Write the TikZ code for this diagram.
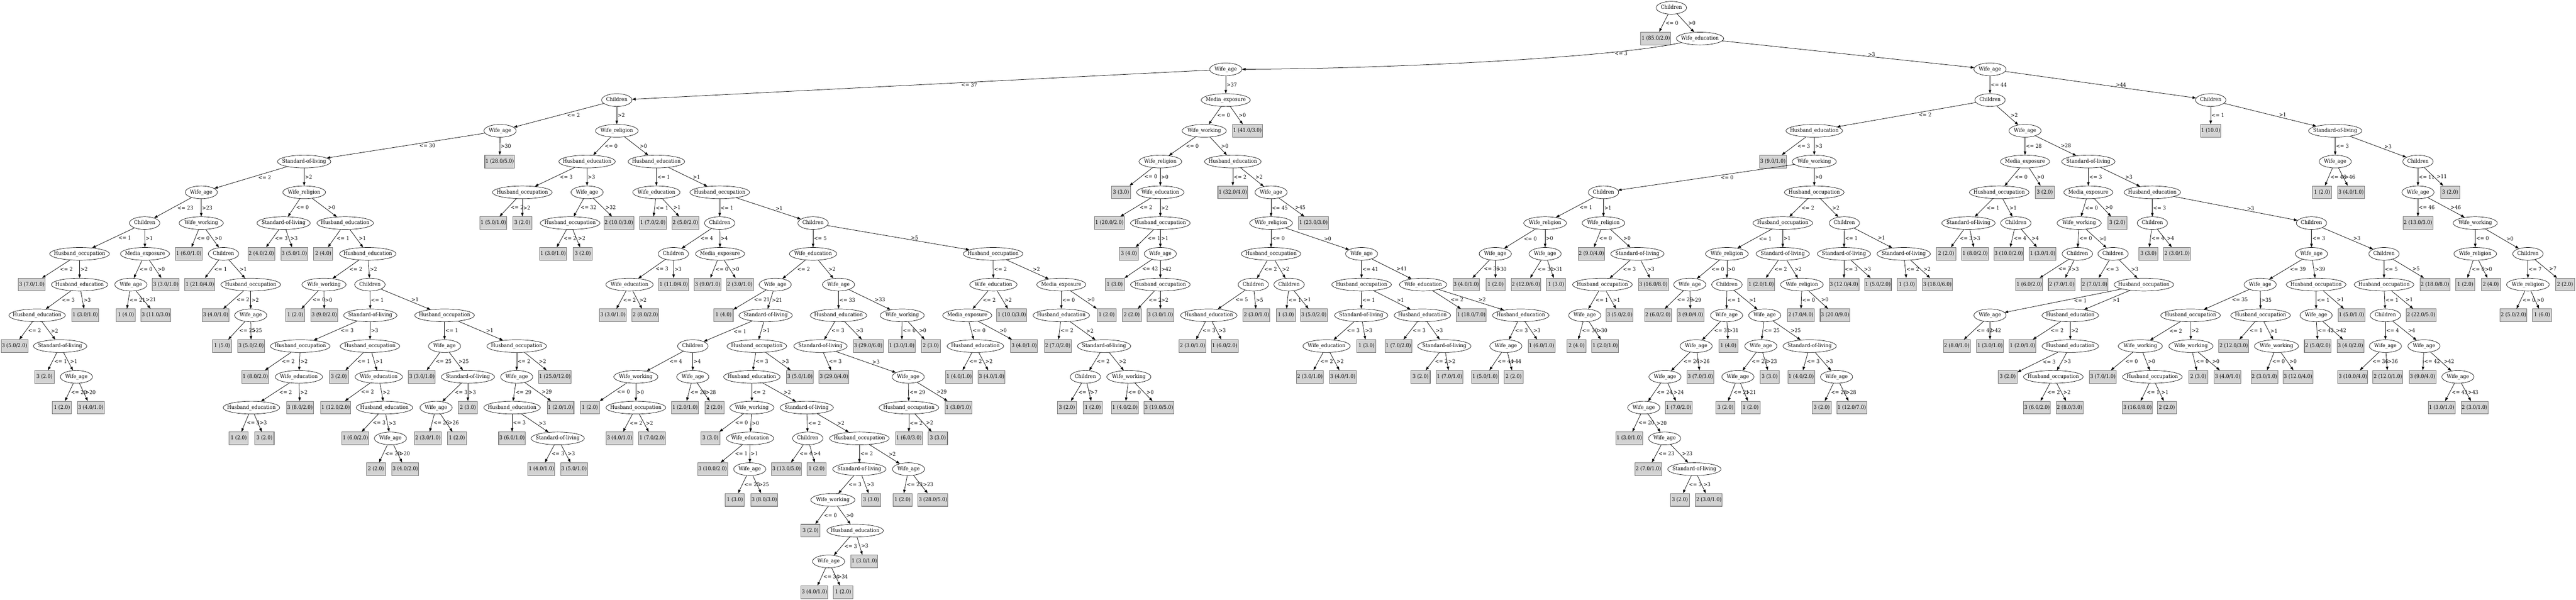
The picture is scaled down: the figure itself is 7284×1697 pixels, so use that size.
\documentclass[tikz,border=0pt]{standalone}
\usepackage{fontspec}
\setmainfont{DejaVu Serif}[FakeStretch=0.91]
\usetikzlibrary{arrows.meta,shapes.geometric}
\definecolor{leafgray}{RGB}{211,211,211}
\newdimen\cxa \newdimen\cxb
\newcommand\gfont{\fontsize{7.5pt}{9pt}\selectfont}
\newcommand\Zb[1]{\makebox[0pt]{#1}}
\newcommand\mkin[5]{\node[inode, minimum width=#1] (#2) at (#3,{22+87*#4}) {\Zb{#5}};}
\newcommand\gCH[3]{\mkin{43pt}{#1}{#2}{#3}{Children}}
\newcommand\gWA[3]{\mkin{45.5pt}{#1}{#2}{#3}{Wife\_age}}
\newcommand\gWE[3]{\mkin{67pt}{#1}{#2}{#3}{Wife\_education}}
\newcommand\gWR[3]{\mkin{60.5pt}{#1}{#2}{#3}{Wife\_religion}}
\newcommand\gWW[3]{\mkin{62.5pt}{#1}{#2}{#3}{Wife\_working}}
\newcommand\gHE[3]{\mkin{80pt}{#1}{#2}{#3}{Husband\_education}}
\newcommand\gHO[3]{\mkin{84.5pt}{#1}{#2}{#3}{Husband\_occupation}}
\newcommand\gSL[3]{\mkin{75.5pt}{#1}{#2}{#3}{Standard-of-living}}
\newcommand\gME[3]{\mkin{69.5pt}{#1}{#2}{#3}{Media\_exposure}}
\newcommand\gLF[4]{\node[leaf] (#1) at (#2,{22+87*#3}) {#4};}
\newcommand\conn[3]{%
  \pgfextractx{\cxa}{\pgfpointanchor{#1}{center}}%
  \pgfextractx{\cxb}{\pgfpointanchor{#2}{center}}%
  \pgfmathsetmacro\csh{1+0.065*abs(\cxb-\cxa)}%
  \draw[conline] (#1) -- node[elab, xshift=\csh pt] {#3} (#2);%
}
\begin{document}
\begin{tikzpicture}[x=0.5pt,y=-0.5pt,
  inode/.style={ellipse, draw, line width=0.5pt, inner sep=0pt, minimum height=18pt, text height=5.5pt, text depth=1.6pt, font=\gfont},
  leaf/.style={rectangle, draw=black!55, fill=leafgray, line width=0.75pt, minimum height=18pt, minimum width=27pt, inner xsep=1pt, inner ysep=0pt, text height=5.5pt, text depth=1.6pt, font=\gfont},
  conline/.style={draw, line width=0.55pt, -{Triangle[length=5pt,width=3.6pt]}},
  elab/.style={midway, anchor=west, inner sep=0pt, font=\gfont},
  elabc/.style={inner sep=0pt, font=\gfont}]
\useasboundingbox (0,0) rectangle (7284,1697);
% ---------- top ----------
\gCH{n0}{4726}{0}
\gLF{l1}{4682}{1}{1 (85.0/2.0)}
\gWE{n1}{4807}{1}
\gWA{n2}{3466}{2}
\gWA{n3}{5627}{2}
% ---------- left subtree ----------
\gCH{a1}{1744}{3}
\gME{b1}{3466}{3}
\gWA{a2}{1414}{4}
\gWR{a3}{1744}{4}
\gSL{a4}{860}{5}
\gLF{l2}{1413}{5}{1 (28.0/5.0)}
\gWA{a5}{569}{6}
\gWR{a6}{860}{6}
\gCH{a7}{409}{7}
\gWW{a8}{569}{7}
\gHO{a9}{225}{8}
\gME{a10}{410}{8}
\gLF{l3}{90}{9}{3 (7.0/1.0)}
\gHE{a11}{225}{9}
\gHE{a12}{105}{10}
\gLF{l4}{241}{10}{1 (3.0/1.0)}
\gLF{l5}{41}{11}{3 (5.0/2.0)}
\gSL{a13}{170}{11}
\gLF{l6}{126}{12}{3 (2.0)}
\gWA{a14}{216}{12}
\gLF{l7}{175}{13}{1 (2.0)}
\gLF{l8}{257}{13}{3 (4.0/1.0)}
\gWA{a15}{370}{9}
\gLF{l9}{469}{9}{3 (3.0/1.0)}
\gLF{l10}{356}{10}{1 (4.0)}
\gLF{l11}{441}{10}{3 (11.0/3.0)}
\gLF{l12}{534}{8}{1 (6.0/1.0)}
\gCH{a16}{632}{8}
\gLF{l13}{565}{9}{1 (21.0/4.0)}
\gHO{a17}{709}{9}
\gLF{l14}{610}{10}{3 (4.0/1.0)}
\gWA{a18}{709}{10}
\gLF{l15}{628}{11}{1 (5.0)}
\gLF{l16}{710}{11}{3 (5.0/2.0)}
\gSL{a19}{802}{7}
\gHE{a20}{976}{7}
\gLF{l17}{739}{8}{2 (4.0/2.0)}
\gLF{l18}{832}{8}{3 (5.0/1.0)}
\gLF{l19}{914}{8}{2 (4.0)}
\gHE{a21}{1040}{8}
\gWW{a22}{916}{9}
\gCH{a23}{1046}{9}
\gLF{l20}{835}{10}{1 (2.0)}
\gLF{l21}{917}{10}{3 (9.0/2.0)}
\gSL{a24}{1047}{10}
\gHO{a25}{1257}{10}
\gHO{a26}{849}{11}
\gHO{a27}{1046}{11}
\gLF{l22}{722}{12}{1 (8.0/2.0)}
\gWE{a28}{845}{12}
\gLF{l23}{958}{12}{3 (2.0)}
\gWE{a30}{1071}{12}
\gHE{a29}{711}{13}
\gLF{l24}{848}{13}{3 (8.0/2.0)}
\gLF{l25}{949}{13}{1 (12.0/2.0)}
\gHE{a31}{1087}{13}
\gLF{l26}{675}{14}{1 (2.0)}
\gLF{l27}{748}{14}{3 (2.0)}
\gLF{l28}{1005}{14}{1 (6.0/2.0)}
\gWA{a32}{1104}{14}
\gLF{l29}{1063}{15}{2 (2.0)}
\gLF{l30}{1146}{15}{3 (4.0/2.0)}
\gWA{a33}{1257}{11}
\gHO{a34}{1461}{11}
\gLF{l31}{1193}{12}{3 (3.0/1.0)}
\gSL{a35}{1323}{12}
\gWA{a36}{1233}{13}
\gLF{l32}{1323}{13}{2 (3.0)}
\gLF{l33}{1210}{14}{2 (3.0/1.0)}
\gLF{l34}{1292}{14}{1 (2.0)}
\gWA{a37}{1461}{12}
\gLF{l35}{1569}{12}{1 (25.0/12.0)}
\gHE{a38}{1448}{13}
\gLF{l36}{1585}{13}{1 (2.0/1.0)}
\gLF{l37}{1448}{14}{3 (6.0/1.0)}
\gSL{a39}{1577}{14}
\gLF{l38}{1531}{15}{1 (4.0/1.0)}
\gLF{l39}{1623}{15}{3 (5.0/1.0)}
% a3 subtree
\gHE{c1}{1660}{5}
\gHE{c2}{1856}{5}
\gHO{c3}{1477}{6}
\gWA{c4}{1660}{6}
\gWE{c6}{1856}{6}
\gHO{c7}{2035}{6}
\gLF{l40}{1395}{7}{1 (5.0/1.0)}
\gLF{l41}{1477}{7}{3 (2.0)}
\gHO{c5}{1612}{7}
\gLF{l42}{1750}{7}{2 (10.0/3.0)}
\gLF{l43}{1846}{7}{1 (7.0/2.0)}
\gLF{l44}{1938}{7}{2 (5.0/2.0)}
\gCH{c8}{2035}{7}
\gCH{c9}{2299}{7}
\gLF{l45}{1564}{8}{1 (3.0/1.0)}
\gLF{l46}{1648}{8}{3 (2.0)}
\gCH{c10}{1904}{8}
\gME{c11}{2036}{8}
\gWE{c13}{2299}{8}
\gHO{c14}{2808}{8}
\gWE{c12}{1780}{9}
\gLF{l47}{1905}{9}{1 (11.0/4.0)}
\gLF{l48}{2001}{9}{3 (9.0/1.0)}
\gLF{l49}{2092}{9}{2 (3.0/1.0)}
\gWA{c15}{2192}{9}
\gWA{c16}{2371}{9}
\gLF{l50}{1733}{10}{3 (3.0/1.0)}
\gLF{l51}{1825}{10}{2 (8.0/2.0)}
\gLF{l52}{2046}{10}{1 (4.0)}
\gSL{c17}{2165}{10}
\gHE{c35}{2371}{10}
\gWW{c36}{2551}{10}
\gCH{c18}{1959}{11}
\gHO{c19}{2140}{11}
\gWW{c20}{1798}{12}
\gWA{c21}{1959}{12}
\gHE{c23}{2126}{12}
\gLF{l53}{2262}{12}{3 (5.0/1.0)}
\gLF{l54}{1668}{13}{1 (2.0)}
\gHO{c22}{1798}{13}
\gLF{l55}{1937}{13}{1 (2.0/1.0)}
\gLF{l56}{2020}{13}{2 (2.0)}
\gWW{c24}{2126}{13}
\gSL{c25}{2281}{13}
\gLF{l57}{1752}{14}{3 (4.0/1.0)}
\gLF{l58}{1844}{14}{1 (7.0/2.0)}
\gLF{l59}{2009}{14}{3 (3.0)}
\gWE{c26}{2121}{14}
\gLF{l60}{2015}{15}{3 (10.0/2.0)}
\gWA{c27}{2120}{15}
\gLF{l61}{2078}{16}{1 (3.0)}
\gLF{l62}{2161}{16}{3 (8.0/3.0)}
\gCH{c28}{2284}{14}
\gHO{c29}{2430}{14}
\gLF{l63}{2224}{15}{3 (13.0/5.0)}
\gLF{l64}{2309}{15}{1 (2.0)}
\gSL{c30}{2430}{15}
\gWA{c31}{2569}{15}
\gWW{c32}{2355}{16}
\gLF{l65}{2463}{16}{3 (3.0)}
\gLF{l66}{2552}{16}{1 (2.0)}
\gLF{l67}{2638}{16}{3 (28.0/5.0)}
\gLF{l68}{2292}{17}{3 (2.0)}
\gHE{c33}{2418}{17}
\gWA{c34}{2343}{18}
\gLF{l69}{2444}{18}{1 (3.0/1.0)}
\gLF{l70}{2303}{19}{3 (4.0/1.0)}
\gLF{l71}{2384}{19}{1 (2.0)}
\gSL{c37}{2320}{11}
\gLF{l72}{2455}{11}{3 (29.0/6.0)}
\gLF{l73}{2358}{12}{3 (29.0/4.0)}
\gWA{c38}{2568}{12}
\gHO{c39}{2570}{13}
\gLF{l74}{2710}{13}{1 (3.0/1.0)}
\gLF{l75}{2570}{14}{1 (6.0/3.0)}
\gLF{l76}{2652}{14}{3 (3.0)}
\gLF{l77}{2550}{11}{1 (3.0/1.0)}
\gLF{l78}{2632}{11}{2 (3.0)}
\gWE{c40}{2809}{9}
\gME{c41}{3001}{9}
\gME{c42}{2735}{10}
\gLF{l79}{2861}{10}{1 (10.0/3.0)}
\gHE{c44}{3001}{10}
\gLF{l80}{3129}{10}{1 (2.0)}
\gHE{c43}{2758}{11}
\gLF{l81}{2896}{11}{3 (4.0/1.0)}
\gLF{l82}{2991}{11}{2 (7.0/2.0)}
\gSL{c45}{3122}{11}
\gLF{l83}{2712}{12}{1 (4.0/1.0)}
\gLF{l84}{2804}{12}{3 (4.0/1.0)}
\gCH{c46}{3069}{12}
\gWW{c47}{3192}{12}
\gLF{l85}{3017}{13}{3 (2.0)}
\gLF{l86}{3090}{13}{1 (2.0)}
\gLF{l87}{3181}{13}{1 (4.0/2.0)}
\gLF{l88}{3277}{13}{3 (19.0/5.0)}
% b1 subtree
\gWW{b2}{3405}{4}
\gLF{l89}{3527}{4}{1 (41.0/3.0)}
\gWR{b3}{3281}{5}
\gHE{b4}{3486}{5}
\gLF{l90}{3170}{6}{3 (3.0)}
\gWE{b5}{3281}{6}
\gLF{l91}{3486}{6}{1 (32.0/4.0)}
\gWA{b9}{3594}{6}
\gLF{l92}{3137}{7}{1 (20.0/2.0)}
\gHO{b6}{3281}{7}
\gWR{b10}{3594}{7}
\gLF{l93}{3714}{7}{1 (23.0/3.0)}
\gLF{l94}{3192}{8}{3 (4.0)}
\gWA{b7}{3281}{8}
\gHO{b11}{3594}{8}
\gWA{b12}{3850}{8}
\gLF{l95}{3152}{9}{1 (3.0)}
\gHO{b8}{3281}{9}
\gCH{b13}{3544}{9}
\gCH{b14}{3645}{9}
\gHO{b16}{3850}{9}
\gWE{b17}{4024}{9}
\gLF{l96}{3200}{10}{2 (2.0)}
\gLF{l97}{3281}{10}{3 (3.0/1.0)}
\gHE{b15}{3418}{10}
\gLF{l98}{3553}{10}{2 (3.0/1.0)}
\gLF{l99}{3636}{10}{1 (3.0)}
\gLF{l100}{3715}{10}{3 (5.0/2.0)}
\gSL{b18}{3849}{10}
\gHE{b19}{4022}{10}
\gLF{l101}{4160}{10}{1 (18.0/7.0)}
\gHE{b22}{4300}{10}
\gLF{l102}{3372}{11}{2 (3.0/1.0)}
\gLF{l103}{3463}{11}{1 (6.0/2.0)}
\gWE{b20}{3751}{11}
\gLF{l104}{3864}{11}{1 (3.0)}
\gLF{l105}{3954}{11}{1 (7.0/2.0)}
\gSL{b21}{4084}{11}
\gWA{b23}{4258}{11}
\gLF{l106}{4359}{11}{1 (6.0/1.0)}
\gLF{l107}{3704}{12}{2 (3.0/1.0)}
\gLF{l108}{3797}{12}{3 (4.0/1.0)}
\gLF{l109}{4017}{12}{3 (2.0)}
\gLF{l110}{4099}{12}{1 (7.0/1.0)}
\gLF{l111}{4199}{12}{1 (5.0/1.0)}
\gLF{l112}{4280}{12}{2 (2.0)}
% ---------- right subtree ----------
\gCH{d1}{5627}{3}
\gCH{e1}{6251}{3}
\gHE{d2}{5130}{4}
\gWA{d3}{5726}{4}
\gLF{l113}{6251}{4}{1 (10.0)}
\gSL{e2}{6603}{4}
\gLF{l114}{5013}{5}{3 (9.0/1.0)}
\gWW{d4}{5130}{5}
\gME{d34}{5726}{5}
\gSL{d35}{5905}{5}
\gWA{e3}{6603}{5}
\gCH{e4}{6837}{5}
\gCH{d5}{4534}{6}
\gHO{d6}{5130}{6}
\gHO{d36}{5653}{6}
\gLF{l115}{5782}{6}{3 (2.0)}
\gME{d39}{5905}{6}
\gHE{d40}{6086}{6}
\gLF{l116}{6566}{6}{1 (2.0)}
\gLF{l117}{6648}{6}{3 (4.0/1.0)}
\gWA{e5}{6837}{6}
\gLF{l118}{6928}{6}{3 (2.0)}
\gWR{d7}{4369}{7}
\gWR{d8}{4534}{7}
\gHO{d14}{5041}{7}
\gCH{d20}{5215}{7}
\gSL{d37}{5566}{7}
\gCH{d38}{5700}{7}
\gWW{d41}{5879}{7}
\gLF{l119}{5987}{7}{3 (2.0)}
\gCH{d49}{6086}{7}
\gCH{d50}{6536}{7}
\gLF{l120}{6837}{7}{2 (13.0/3.0)}
\gWW{e6}{6999}{7}
\gWA{d9}{4228}{8}
\gWA{d10}{4369}{8}
\gLF{l121}{4500}{8}{2 (9.0/4.0)}
\gSL{d11}{4630}{8}
\gWR{d15}{4883}{8}
\gSL{d16}{5041}{8}
\gSL{d32}{5214}{8}
\gSL{d33}{5383}{8}
\gLF{l122}{5503}{8}{2 (2.0)}
\gLF{l123}{5585}{8}{1 (8.0/2.0)}
\gLF{l124}{5680}{8}{3 (10.0/2.0)}
\gLF{l125}{5776}{8}{1 (3.0/1.0)}
\gCH{d42}{5874}{8}
\gCH{d43}{5975}{8}
\gLF{l126}{6075}{8}{3 (3.0)}
\gLF{l127}{6156}{8}{2 (3.0/1.0)}
\gWA{d51}{6536}{8}
\gCH{d52}{6741}{8}
\gWR{e7}{6999}{8}
\gCH{e8}{7148}{8}
\gLF{l128}{4146}{9}{3 (4.0/1.0)}
\gLF{l129}{4229}{9}{1 (2.0)}
\gLF{l130}{4315}{9}{2 (12.0/6.0)}
\gLF{l131}{4400}{9}{1 (3.0)}
\gHO{d12}{4531}{9}
\gLF{l132}{4675}{9}{3 (16.0/8.0)}
\gWA{d17}{4778}{9}
\gCH{d18}{4883}{9}
\gLF{l133}{4980}{9}{1 (2.0/1.0)}
\gWR{d31}{5095}{9}
\gLF{l134}{5214}{9}{3 (12.0/4.0)}
\gLF{l135}{5310}{9}{1 (5.0/2.0)}
\gLF{l136}{5392}{9}{1 (3.0)}
\gLF{l137}{5478}{9}{3 (18.0/6.0)}
\gLF{l138}{5738}{9}{1 (6.0/2.0)}
\gLF{l139}{5830}{9}{2 (7.0/1.0)}
\gLF{l140}{5923}{9}{2 (7.0/1.0)}
\gHO{d44}{6062}{9}
\gWA{d53}{6391}{9}
\gHO{d54}{6549}{9}
\gHO{d62}{6741}{9}
\gLF{l141}{6885}{9}{2 (18.0/8.0)}
\gLF{l142}{6971}{9}{1 (2.0)}
\gLF{l143}{7043}{9}{2 (4.0)}
\gWR{e9}{7148}{9}
\gLF{l144}{7253}{9}{2 (2.0)}
\gWA{d13}{4481}{10}
\gLF{l145}{4580}{10}{3 (5.0/2.0)}
\gLF{l146}{4688}{10}{2 (6.0/2.0)}
\gLF{l147}{4780}{10}{3 (9.0/4.0)}
\gWA{d19}{4882}{10}
\gWA{d21}{4990}{10}
\gLF{l148}{5092}{10}{2 (7.0/4.0)}
\gLF{l149}{5189}{10}{3 (20.0/9.0)}
\gWA{d45}{5627}{10}
\gHE{d46}{5854}{10}
\gHO{d55}{6194}{10}
\gHO{d56}{6392}{10}
\gWA{d61}{6549}{10}
\gLF{l150}{6649}{10}{1 (5.0/1.0)}
\gCH{d63}{6745}{10}
\gLF{l151}{6846}{10}{2 (22.0/5.0)}
\gLF{l152}{7107}{10}{2 (5.0/2.0)}
\gLF{l153}{7188}{10}{1 (6.0)}
\gLF{l154}{4458}{11}{2 (4.0)}
\gLF{l155}{4539}{11}{1 (2.0/1.0)}
\gWA{d22}{4796}{11}
\gLF{l156}{4887}{11}{1 (4.0)}
\gWA{d27}{4979}{11}
\gSL{d28}{5117}{11}
\gLF{l157}{5533}{11}{2 (8.0/1.0)}
\gLF{l158}{5627}{11}{1 (3.0/1.0)}
\gLF{l159}{5719}{11}{1 (2.0/1.0)}
\gHE{d47}{5854}{11}
\gWW{d57}{6052}{11}
\gWW{d58}{6195}{11}
\gLF{l160}{6316}{11}{2 (12.0/3.0)}
\gWW{d60}{6437}{11}
\gLF{l161}{6554}{11}{2 (5.0/2.0)}
\gLF{l162}{6646}{11}{3 (4.0/2.0)}
\gWA{d64}{6745}{11}
\gWA{d65}{6854}{11}
\gWA{d23}{4708}{12}
\gLF{l163}{4808}{12}{3 (7.0/3.0)}
\gWA{d29}{4914}{12}
\gLF{l164}{5004}{12}{3 (3.0)}
\gLF{l165}{5093}{12}{1 (4.0/2.0)}
\gWA{d30}{5193}{12}
\gLF{l166}{5677}{12}{3 (2.0)}
\gHO{d48}{5806}{12}
\gLF{l167}{5946}{12}{3 (7.0/1.0)}
\gHO{d59}{6086}{12}
\gLF{l168}{6216}{12}{2 (3.0)}
\gLF{l169}{6299}{12}{3 (4.0/1.0)}
\gLF{l170}{6403}{12}{2 (3.0/1.0)}
\gLF{l171}{6498}{12}{3 (12.0/4.0)}
\gLF{l172}{6653}{12}{3 (10.0/4.0)}
\gLF{l173}{6752}{12}{2 (12.0/1.0)}
\gLF{l174}{6850}{12}{3 (9.0/4.0)}
\gWA{d66}{6950}{12}
\gWA{d24}{4648}{13}
\gLF{l175}{4747}{13}{1 (7.0/2.0)}
\gLF{l176}{4879}{13}{3 (2.0)}
\gLF{l177}{4950}{13}{1 (2.0)}
\gLF{l178}{5151}{13}{3 (2.0)}
\gLF{l179}{5236}{13}{1 (12.0/7.0)}
\gLF{l180}{5760}{13}{3 (6.0/2.0)}
\gLF{l181}{5852}{13}{2 (8.0/3.0)}
\gLF{l182}{6044}{13}{3 (16.0/8.0)}
\gLF{l183}{6127}{13}{2 (2.0)}
\gLF{l184}{6904}{13}{1 (3.0/1.0)}
\gLF{l185}{6997}{13}{2 (3.0/1.0)}
\gLF{l186}{4607}{14}{1 (3.0/1.0)}
\gWA{d25}{4707}{14}
\gLF{l187}{4661}{15}{2 (7.0/1.0)}
\gSL{d26}{4791}{15}
\gLF{l188}{4750}{16}{3 (2.0)}
\gLF{l189}{4832}{16}{2 (3.0/1.0)}
% ---------- connectors ----------
\conn{n0}{l1}{<= 0}\conn{n0}{n1}{>0}
\draw[conline] (n1) .. controls (4550,165) and (3900,195) .. node[elabc, pos=0.2, anchor=north] {<= 3} (n2);
\conn{n1}{n3}{>3}
\conn{n2}{a1}{<= 37}\conn{n2}{b1}{>37}
\conn{a1}{a2}{<= 2}\conn{a1}{a3}{>2}
\conn{a2}{a4}{<= 30}\conn{a2}{l2}{>30}
\conn{a4}{a5}{<= 2}\conn{a4}{a6}{>2}
\conn{a5}{a7}{<= 23}\conn{a5}{a8}{>23}
\conn{a7}{a9}{<= 1}\conn{a7}{a10}{>1}
\conn{a9}{l3}{<= 2}\conn{a9}{a11}{>2}
\conn{a11}{a12}{<= 3}\conn{a11}{l4}{>3}
\conn{a12}{l5}{<= 2}\conn{a12}{a13}{>2}
\conn{a13}{l6}{<= 1}\conn{a13}{a14}{>1}
\conn{a14}{l7}{<= 20}\conn{a14}{l8}{>20}
\conn{a10}{a15}{<= 0}\conn{a10}{l9}{>0}
\conn{a15}{l10}{<= 21}\conn{a15}{l11}{>21}
\conn{a8}{l12}{<= 0}\conn{a8}{a16}{>0}
\conn{a16}{l13}{<= 1}\conn{a16}{a17}{>1}
\conn{a17}{l14}{<= 2}\conn{a17}{a18}{>2}
\conn{a18}{l15}{<= 25}\conn{a18}{l16}{>25}
\conn{a6}{a19}{<= 0}\conn{a6}{a20}{>0}
\conn{a19}{l17}{<= 3}\conn{a19}{l18}{>3}
\conn{a20}{l19}{<= 1}\conn{a20}{a21}{>1}
\conn{a21}{a22}{<= 2}\conn{a21}{a23}{>2}
\conn{a22}{l20}{<= 0}\conn{a22}{l21}{>0}
\conn{a23}{a24}{<= 1}\conn{a23}{a25}{>1}
\conn{a24}{a26}{<= 3}\conn{a24}{a27}{>3}
\conn{a26}{l22}{<= 2}\conn{a26}{a28}{>2}
\conn{a28}{a29}{<= 2}\conn{a28}{l24}{>2}
\conn{a29}{l26}{<= 3}\conn{a29}{l27}{>3}
\conn{a27}{l23}{<= 1}\conn{a27}{a30}{>1}
\conn{a30}{l25}{<= 2}\conn{a30}{a31}{>2}
\conn{a31}{l28}{<= 3}\conn{a31}{a32}{>3}
\conn{a32}{l29}{<= 20}\conn{a32}{l30}{>20}
\conn{a25}{a33}{<= 1}\conn{a25}{a34}{>1}
\conn{a33}{l31}{<= 25}\conn{a33}{a35}{>25}
\conn{a35}{a36}{<= 3}\conn{a35}{l32}{>3}
\conn{a36}{l33}{<= 26}\conn{a36}{l34}{>26}
\conn{a34}{a37}{<= 2}\conn{a34}{l35}{>2}
\conn{a37}{a38}{<= 29}\conn{a37}{l36}{>29}
\conn{a38}{l37}{<= 3}\conn{a38}{a39}{>3}
\conn{a39}{l38}{<= 3}\conn{a39}{l39}{>3}
\conn{a3}{c1}{<= 0}\conn{a3}{c2}{>0}
\conn{c1}{c3}{<= 3}\conn{c1}{c4}{>3}
\conn{c3}{l40}{<= 2}\conn{c3}{l41}{>2}
\conn{c4}{c5}{<= 32}\conn{c4}{l42}{>32}
\conn{c5}{l45}{<= 2}\conn{c5}{l46}{>2}
\conn{c2}{c6}{<= 1}\conn{c2}{c7}{>1}
\conn{c6}{l43}{<= 1}\conn{c6}{l44}{>1}
\conn{c7}{c8}{<= 1}\conn{c7}{c9}{>1}
\conn{c8}{c10}{<= 4}\conn{c8}{c11}{>4}
\conn{c10}{c12}{<= 3}\conn{c10}{l47}{>3}
\conn{c12}{l50}{<= 2}\conn{c12}{l51}{>2}
\conn{c11}{l48}{<= 0}\conn{c11}{l49}{>0}
\conn{c9}{c13}{<= 5}\conn{c9}{c14}{>5}
\conn{c13}{c15}{<= 2}\conn{c13}{c16}{>2}
\conn{c15}{l52}{<= 21}\conn{c15}{c17}{>21}
\conn{c17}{c18}{<= 1}\conn{c17}{c19}{>1}
\conn{c18}{c20}{<= 4}\conn{c18}{c21}{>4}
\conn{c20}{l54}{<= 0}\conn{c20}{c22}{>0}
\conn{c22}{l57}{<= 2}\conn{c22}{l58}{>2}
\conn{c21}{l55}{<= 28}\conn{c21}{l56}{>28}
\conn{c19}{c23}{<= 3}\conn{c19}{l53}{>3}
\conn{c23}{c24}{<= 2}\conn{c23}{c25}{>2}
\conn{c24}{l59}{<= 0}\conn{c24}{c26}{>0}
\conn{c26}{l60}{<= 1}\conn{c26}{c27}{>1}
\conn{c27}{l61}{<= 25}\conn{c27}{l62}{>25}
\conn{c25}{c28}{<= 2}\conn{c25}{c29}{>2}
\conn{c28}{l63}{<= 4}\conn{c28}{l64}{>4}
\conn{c29}{c30}{<= 2}\conn{c29}{c31}{>2}
\conn{c30}{c32}{<= 3}\conn{c30}{l65}{>3}
\conn{c32}{l68}{<= 0}\conn{c32}{c33}{>0}
\conn{c33}{c34}{<= 3}\conn{c33}{l69}{>3}
\conn{c34}{l70}{<= 34}\conn{c34}{l71}{>34}
\conn{c31}{l66}{<= 23}\conn{c31}{l67}{>23}
\conn{c16}{c35}{<= 33}\conn{c16}{c36}{>33}
\conn{c35}{c37}{<= 3}\conn{c35}{l72}{>3}
\conn{c37}{l73}{<= 3}\conn{c37}{c38}{>3}
\conn{c38}{c39}{<= 29}\conn{c38}{l74}{>29}
\conn{c39}{l75}{<= 2}\conn{c39}{l76}{>2}
\conn{c36}{l77}{<= 0}\conn{c36}{l78}{>0}
\conn{c14}{c40}{<= 2}\conn{c14}{c41}{>2}
\conn{c40}{c42}{<= 2}\conn{c40}{l79}{>2}
\conn{c42}{c43}{<= 0}\conn{c42}{l81}{>0}
\conn{c43}{l83}{<= 2}\conn{c43}{l84}{>2}
\conn{c41}{c44}{<= 0}\conn{c41}{l80}{>0}
\conn{c44}{l82}{<= 2}\conn{c44}{c45}{>2}
\conn{c45}{c46}{<= 2}\conn{c45}{c47}{>2}
\conn{c46}{l85}{<= 7}\conn{c46}{l86}{>7}
\conn{c47}{l87}{<= 0}\conn{c47}{l88}{>0}
\conn{b1}{b2}{<= 0}\conn{b1}{l89}{>0}
\conn{b2}{b3}{<= 0}\conn{b2}{b4}{>0}
\conn{b3}{l90}{<= 0}\conn{b3}{b5}{>0}
\conn{b5}{l92}{<= 2}\conn{b5}{b6}{>2}
\conn{b6}{l94}{<= 1}\conn{b6}{b7}{>1}
\conn{b7}{l95}{<= 42}\conn{b7}{b8}{>42}
\conn{b8}{l96}{<= 2}\conn{b8}{l97}{>2}
\conn{b4}{l91}{<= 2}\conn{b4}{b9}{>2}
\conn{b9}{b10}{<= 45}\conn{b9}{l93}{>45}
\conn{b10}{b11}{<= 0}\conn{b10}{b12}{>0}
\conn{b11}{b13}{<= 2}\conn{b11}{b14}{>2}
\conn{b13}{b15}{<= 5}\conn{b13}{l98}{>5}
\conn{b15}{l102}{<= 3}\conn{b15}{l103}{>3}
\conn{b14}{l99}{<= 1}\conn{b14}{l100}{>1}
\conn{b12}{b16}{<= 41}\conn{b12}{b17}{>41}
\conn{b16}{b18}{<= 1}\conn{b16}{b19}{>1}
\conn{b18}{b20}{<= 3}\conn{b18}{l104}{>3}
\conn{b20}{l107}{<= 2}\conn{b20}{l108}{>2}
\conn{b19}{l105}{<= 3}\conn{b19}{b21}{>3}
\conn{b21}{l109}{<= 2}\conn{b21}{l110}{>2}
\conn{b17}{l101}{<= 2}\conn{b17}{b22}{>2}
\conn{b22}{b23}{<= 3}\conn{b22}{l106}{>3}
\conn{b23}{l111}{<= 44}\conn{b23}{l112}{>44}
\conn{n3}{d1}{<= 44}\conn{n3}{e1}{>44}
\conn{d1}{d2}{<= 2}\conn{d1}{d3}{>2}
\conn{d2}{l114}{<= 3}\conn{d2}{d4}{>3}
\conn{d4}{d5}{<= 0}\conn{d4}{d6}{>0}
\conn{d5}{d7}{<= 1}\conn{d5}{d8}{>1}
\conn{d7}{d9}{<= 0}\conn{d7}{d10}{>0}
\conn{d9}{l128}{<= 30}\conn{d9}{l129}{>30}
\conn{d10}{l130}{<= 31}\conn{d10}{l131}{>31}
\conn{d8}{l121}{<= 0}\conn{d8}{d11}{>0}
\conn{d11}{d12}{<= 3}\conn{d11}{l132}{>3}
\conn{d12}{d13}{<= 1}\conn{d12}{l145}{>1}
\conn{d13}{l154}{<= 30}\conn{d13}{l155}{>30}
\conn{d6}{d14}{<= 2}\conn{d6}{d20}{>2}
\conn{d14}{d15}{<= 1}\conn{d14}{d16}{>1}
\conn{d15}{d17}{<= 0}\conn{d15}{d18}{>0}
\conn{d17}{l146}{<= 29}\conn{d17}{l147}{>29}
\conn{d18}{d19}{<= 1}\conn{d18}{d21}{>1}
\conn{d19}{d22}{<= 31}\conn{d19}{l156}{>31}
\conn{d22}{d23}{<= 26}\conn{d22}{l163}{>26}
\conn{d23}{d24}{<= 24}\conn{d23}{l175}{>24}
\conn{d24}{l186}{<= 20}\conn{d24}{d25}{>20}
\conn{d25}{l187}{<= 23}\conn{d25}{d26}{>23}
\conn{d26}{l188}{<= 3}\conn{d26}{l189}{>3}
\conn{d21}{d27}{<= 25}\conn{d21}{d28}{>25}
\conn{d27}{d29}{<= 23}\conn{d27}{l164}{>23}
\conn{d29}{l176}{<= 21}\conn{d29}{l177}{>21}
\conn{d28}{l165}{<= 3}\conn{d28}{d30}{>3}
\conn{d30}{l178}{<= 28}\conn{d30}{l179}{>28}
\conn{d16}{l133}{<= 2}\conn{d16}{d31}{>2}
\conn{d31}{l148}{<= 0}\conn{d31}{l149}{>0}
\conn{d20}{d32}{<= 1}\conn{d20}{d33}{>1}
\conn{d32}{l134}{<= 3}\conn{d32}{l135}{>3}
\conn{d33}{l136}{<= 2}\conn{d33}{l137}{>2}
\conn{d3}{d34}{<= 28}\conn{d3}{d35}{>28}
\conn{d34}{d36}{<= 0}\conn{d34}{l115}{>0}
\conn{d36}{d37}{<= 1}\conn{d36}{d38}{>1}
\conn{d37}{l122}{<= 3}\conn{d37}{l123}{>3}
\conn{d38}{l124}{<= 4}\conn{d38}{l125}{>4}
\conn{d35}{d39}{<= 3}\conn{d35}{d40}{>3}
\conn{d39}{d41}{<= 0}\conn{d39}{l119}{>0}
\conn{d41}{d42}{<= 0}\conn{d41}{d43}{>0}
\conn{d42}{l138}{<= 3}\conn{d42}{l139}{>3}
\conn{d43}{l140}{<= 3}\conn{d43}{d44}{>3}
\conn{d44}{d45}{<= 1}\conn{d44}{d46}{>1}
\conn{d45}{l157}{<= 42}\conn{d45}{l158}{>42}
\conn{d46}{l159}{<= 2}\conn{d46}{d47}{>2}
\conn{d47}{l166}{<= 3}\conn{d47}{d48}{>3}
\conn{d48}{l180}{<= 2}\conn{d48}{l181}{>2}
\conn{d40}{d49}{<= 3}\conn{d40}{d50}{>3}
\conn{d49}{l126}{<= 4}\conn{d49}{l127}{>4}
\conn{d50}{d51}{<= 3}\conn{d50}{d52}{>3}
\conn{d51}{d53}{<= 39}\conn{d51}{d54}{>39}
\conn{d53}{d55}{<= 35}\conn{d53}{d56}{>35}
\conn{d55}{d57}{<= 2}\conn{d55}{d58}{>2}
\conn{d57}{l167}{<= 0}\conn{d57}{d59}{>0}
\conn{d59}{l182}{<= 1}\conn{d59}{l183}{>1}
\conn{d58}{l168}{<= 0}\conn{d58}{l169}{>0}
\conn{d56}{l160}{<= 1}\conn{d56}{d60}{>1}
\conn{d60}{l170}{<= 0}\conn{d60}{l171}{>0}
\conn{d54}{d61}{<= 1}\conn{d54}{l150}{>1}
\conn{d61}{l161}{<= 42}\conn{d61}{l162}{>42}
\conn{d52}{d62}{<= 5}\conn{d52}{l141}{>5}
\conn{d62}{d63}{<= 1}\conn{d62}{l151}{>1}
\conn{d63}{d64}{<= 4}\conn{d63}{d65}{>4}
\conn{d64}{l172}{<= 36}\conn{d64}{l173}{>36}
\conn{d65}{l174}{<= 42}\conn{d65}{d66}{>42}
\conn{d66}{l184}{<= 43}\conn{d66}{l185}{>43}
\conn{e1}{l113}{<= 1}\conn{e1}{e2}{>1}
\conn{e2}{e3}{<= 3}\conn{e2}{e4}{>3}
\conn{e3}{l116}{<= 46}\conn{e3}{l117}{>46}
\conn{e4}{e5}{<= 11}\conn{e4}{l118}{>11}
\conn{e5}{l120}{<= 46}\conn{e5}{e6}{>46}
\conn{e6}{e7}{<= 0}\conn{e6}{e8}{>0}
\conn{e7}{l142}{<= 0}\conn{e7}{l143}{>0}
\conn{e8}{e9}{<= 7}\conn{e8}{l144}{>7}
\conn{e9}{l152}{<= 0}\conn{e9}{l153}{>0}
\end{tikzpicture}
\end{document}
